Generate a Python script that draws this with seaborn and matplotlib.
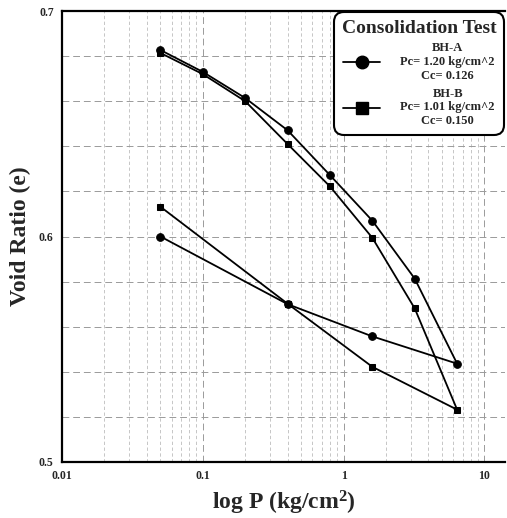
import numpy as np
import pandas as pd
import matplotlib
matplotlib.use("Agg")
import matplotlib.pyplot as plt
import seaborn as sns
from matplotlib.ticker import FixedLocator, FixedFormatter, MultipleLocator, NullFormatter
from matplotlib.lines import Line2D

# ---- data ----
pressure_A = [0.05, 0.1, 0.2, 0.4, 0.8, 1.6, 3.2, 6.4, 1.6, 0.4, 0.05]
void_A = [0.6827, 0.673, 0.6614, 0.6471, 0.6272, 0.607, 0.5813, 0.5436, 0.5557, 0.570, 0.600]
pressure_B = [0.05, 0.1, 0.2, 0.4, 0.8, 1.6, 3.2, 6.4, 1.6, 0.4, 0.05]
void_B = [0.6814, 0.672, 0.660, 0.641, 0.6222, 0.5994, 0.5681, 0.5232, 0.5422, 0.5702, 0.6132]
labels = ["BH-A\nPc= 1.20 kg/cm^2\nCc= 0.126", "BH-B\nPc= 1.01 kg/cm^2\nCc= 0.150"]
x_ticks = [0.01, 0.1, 1, 10]
x_tick_labels = ["0.01", "0.1", "1", "10"]
y_ticks = [0.5, 0.6, 0.7]
y_tick_labels = ["0.5", "0.6", "0.7"]

sns.set_style("white")
plt.rcParams["font.family"] = ["Liberation Serif", "DejaVu Serif"]
plt.rcParams["font.weight"] = "bold"
plt.rcParams["mathtext.fontset"] = "custom"
plt.rcParams["mathtext.rm"] = "Liberation Serif:bold"
plt.rcParams["mathtext.it"] = "Liberation Serif:bold"
plt.rcParams["mathtext.bf"] = "Liberation Serif:bold"

fig = plt.figure(figsize=(5.07, 5.18), dpi=100)
ax = fig.add_axes([62/507, 1-462/518, (505-62)/507, (462-11)/518])

dfA = pd.DataFrame({"P": pressure_A, "e": void_A})
dfB = pd.DataFrame({"P": pressure_B, "e": void_B})
sns.lineplot(data=dfA, x="P", y="e", sort=False, estimator=None, color="black",
             lw=1.3, marker="o", markersize=5.5, markeredgecolor="black", ax=ax)
sns.lineplot(data=dfB, x="P", y="e", sort=False, estimator=None, color="black",
             lw=1.3, marker="s", markersize=5, markeredgecolor="black", ax=ax)

ax.set_xscale("log")
ax.set_xlim(0.01, 14)
ax.set_ylim(0.5, 0.7)

ax.xaxis.set_major_locator(FixedLocator(x_ticks))
ax.xaxis.set_major_formatter(FixedFormatter(x_tick_labels))
minor_x = [m * 10.0**d for d in (-2, -1, 0, 1) for m in range(2, 10) if m * 10.0**d < 14]
ax.xaxis.set_minor_locator(FixedLocator(minor_x))
ax.xaxis.set_minor_formatter(NullFormatter())
ax.yaxis.set_major_locator(FixedLocator(y_ticks))
ax.yaxis.set_major_formatter(FixedFormatter(y_tick_labels))
ax.yaxis.set_minor_locator(MultipleLocator(0.02))

ax.tick_params(which="major", direction="in", length=6, width=1.2, labelsize=8.5, pad=6)
ax.tick_params(which="minor", direction="in", length=3.5, width=1.0)
for t in ax.get_xticklabels() + ax.get_yticklabels():
    t.set_fontweight("bold")

ax.grid(which="major", axis="both", color="#9a9a9a", lw=0.7, linestyle=(0, (7, 4)))
ax.grid(which="minor", axis="y", color="#9a9a9a", lw=0.7, linestyle=(0, (7, 4)))
ax.grid(which="minor", axis="x", color="#bdbdbd", lw=0.6, linestyle=(0, (4, 3)))

for s in ["left", "bottom", "top"]:
    ax.spines[s].set_linewidth(1.6)
    ax.spines[s].set_color("black")
ax.spines["right"].set_visible(False)

ax.set_ylabel("Void Ratio (e)", fontsize=17, fontweight="bold", labelpad=6)
ax.set_xlabel("log P (kg/cm$^{2}$)", fontsize=17, fontweight="bold", labelpad=5)

handles = [Line2D([], [], color="black", lw=1.3, marker="o", markersize=9),
           Line2D([], [], color="black", lw=1.3, marker="s", markersize=8.5)]
leg = ax.legend(handles, labels, title="Consolidation Test", loc="upper right",
                bbox_to_anchor=(1.0, 1.0), borderaxespad=0.1, frameon=True, fancybox=True,
                framealpha=1, edgecolor="black", prop={"size": 9, "weight": "bold"},
                title_fontproperties={"size": 14, "weight": "bold"},
                handlelength=3.0, handletextpad=1.6, labelspacing=0.45, borderpad=0.6)
leg.get_frame().set_linewidth(1.5)
leg.get_frame().set_boxstyle("round,pad=0,rounding_size=0.8")
for t in leg.get_texts():
    t.set_multialignment("center")
    t.set_linespacing(1.2)

fig.savefig("out.png", dpi=100)
